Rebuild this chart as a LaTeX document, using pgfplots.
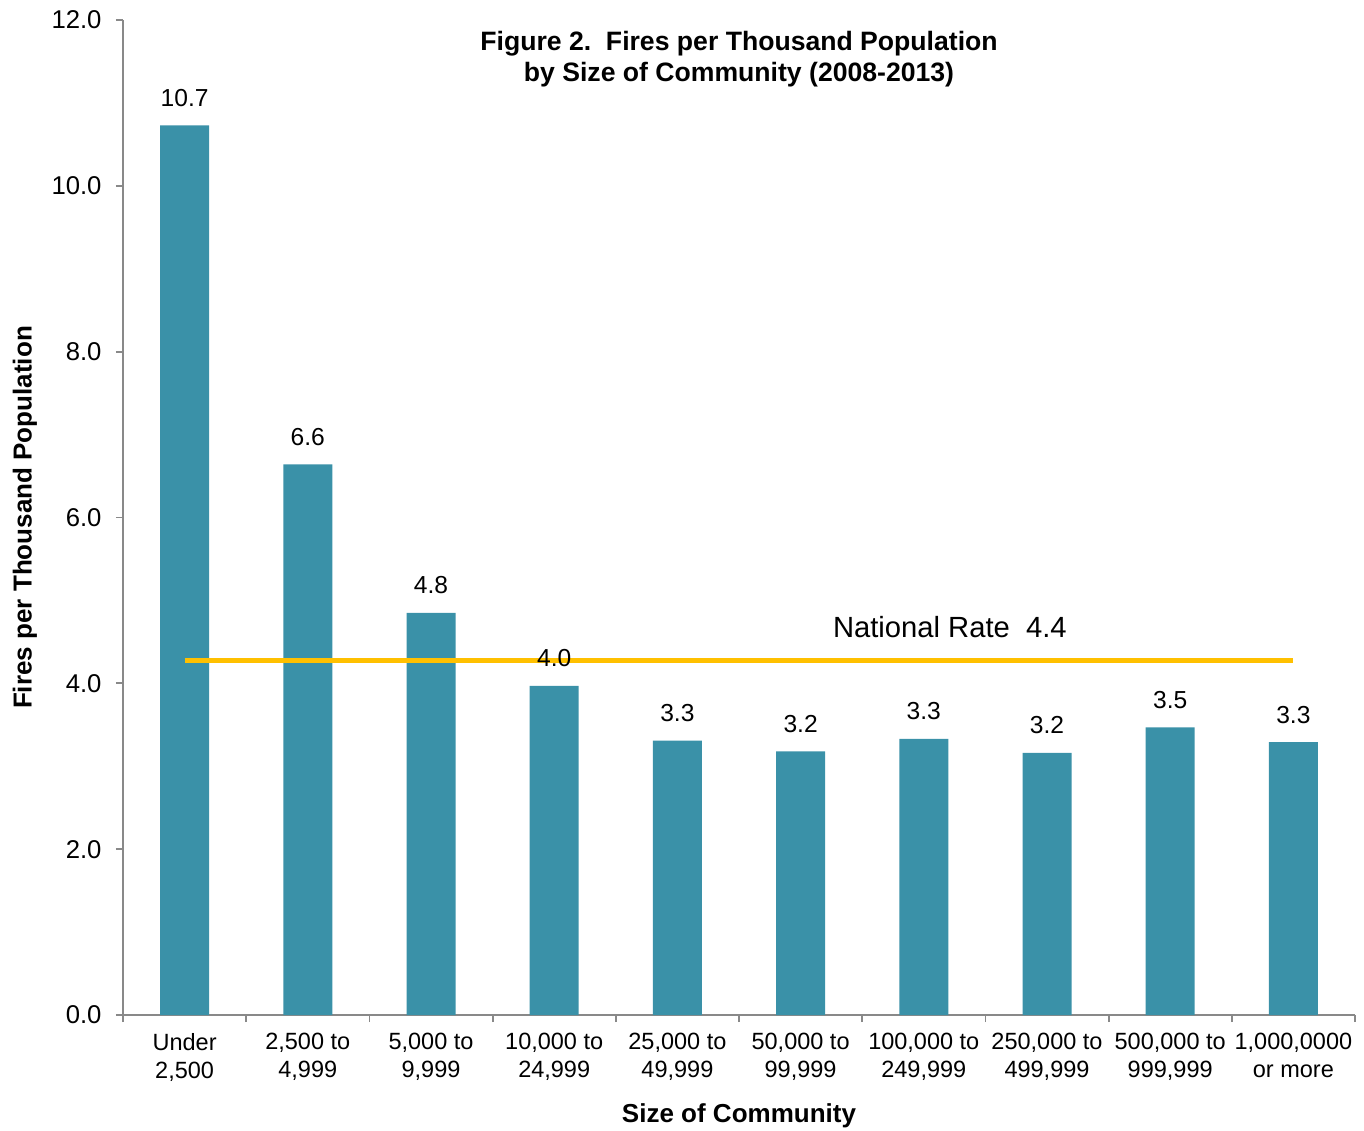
\documentclass[border=0pt]{standalone}
\usepackage{pgfplots}
\pgfplotsset{compat=1.18}
\usepackage{fontspec}
\setmainfont{Liberation Sans}
\definecolor{barc}{HTML}{3A91A8}
\definecolor{gold}{HTML}{FFC000}
\definecolor{axg}{HTML}{898989}
\begin{document}
\begin{tikzpicture}
\begin{axis}[
  scale only axis, width=616pt, height=497.5pt,
  xmin=-0.5, xmax=9.5, ymin=0, ymax=12,
  axis x line*=bottom, axis y line*=left,
  axis line style={axg, line width=0.9pt},
  ytick={0,2,...,12},
  yticklabel style={font=\fontsize{12.85}{15}\selectfont, xshift=-3.7pt, /pgf/number format/fixed, /pgf/number format/fixed zerofill, /pgf/number format/precision=1, /pgf/number format/assume math mode=true},
  xtick={0,...,9},
  xticklabels={{Under\\2,500}, {2,500 to\\4,999}, {5,000 to\\9,999}, {10,000 to\\24,999}, {25,000 to\\49,999}, {50,000 to\\99,999}, {100,000 to\\249,999}, {250,000 to\\499,999}, {500,000 to\\999,999}, {1,000,0000\\or more}},
  xticklabel style={align=center, text depth=0pt, font=\fontsize{11.75}{14}\selectfont, yshift=-2pt},
  major x tick style={draw=none},
  minor xtick={-0.5,0.5,...,9.5},
  minor x tick style={axg, line width=0.9pt},
  y tick style={axg, line width=0.9pt},
  tick align=outside,
  major tick length=3.5pt, minor tick length=3.5pt,
  xlabel={\bfseries Size of Community},
  ylabel={\bfseries Fires per Thousand Population},
  label style={font=\fontsize{13}{15}\selectfont},
  xlabel style={at={([yshift=-53.5pt]axis description cs:0.5,0)}, anchor=base, inner sep=0pt},
  ylabel style={at={([xshift=-49pt]axis description cs:0,0.5)}, anchor=center, inner sep=0pt},
  clip=false,
]
\coordinate (ll) at (rel axis cs:0,0);
\coordinate (ur) at (rel axis cs:1,1);
\addplot[ybar, bar width=24.5pt, fill=barc, draw=none]
 table[meta=lab] {
x y lab
0 10.73 10.7
1 6.64 6.6
2 4.85 4.8
3 3.97 4.0
4 3.31 3.3
5 3.18 3.2
6 3.33 3.3
7 3.16 3.2
8 3.47 3.5
9 3.29 3.3
};
\addplot[gold, line width=2.6pt] coordinates {(0,4.28) (9,4.28)};
\addplot[draw=none, mark=none, nodes near coords, point meta=explicit symbolic,
  nodes near coords style={font=\fontsize{12.3}{15}\selectfont, black, anchor=base, inner sep=0pt, yshift=9.5pt}]
 table[meta=lab] {
x y lab
0 10.73 10.7
1 6.64 6.6
2 4.85 4.8
3 3.97 4.0
4 3.31 3.3
5 3.18 3.2
6 3.33 3.3
7 3.16 3.2
8 3.47 3.5
9 3.29 3.3
};
\node[anchor=base west, font=\fontsize{14.6}{17}\selectfont, inner sep=0pt] at (axis cs:5.26,4.55) {National Rate\ \ 4.4};
\node[align=center, font=\bfseries\fontsize{13.3}{15.5}\selectfont, anchor=north, inner sep=0pt] at (axis cs:4.5,11.87) {Figure 2.\ \ Fires per Thousand Population\\by Size of Community (2008-2013)};
\end{axis}
\pgfresetboundingbox
\path ([shift={(-61.5pt,-57.5pt)}]ll) rectangle ([shift={(4.5pt,10pt)}]ur);
\end{tikzpicture}
\end{document}
